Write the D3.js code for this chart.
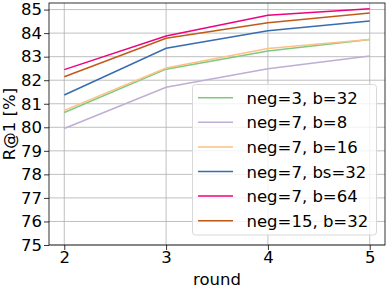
<!DOCTYPE html>
<html>
<head>
<meta charset="utf-8">
<script src="https://cdn.jsdelivr.net/npm/d3@7"></script>
<style>
body { margin: 0; background: #fff; }
text { font-family: "DejaVu Sans", sans-serif; }
</style>
</head>
<body>
<script>
var w = 387;
var h = 290;

var rounds = [2, 3, 4, 5];
var yTicks = [75, 76, 77, 78, 79, 80, 81, 82, 83, 84, 85];

var names = ["neg=3, b=32", "neg=7, b=8", "neg=7, b=16", "neg=7, bs=32", "neg=7, b=64", "neg=15, b=32"];
var colors = ["#7fc97f", "#beaed4", "#fdc086", "#386cb0", "#f0027f", "#bf5b17"];

var neg3b32 = [80.63, 82.47, 83.24, 83.73];
var neg7b8 = [79.95, 81.70, 82.49, 83.03];
var neg7b16 = [80.72, 82.52, 83.35, 83.73];
var neg7b32 = [81.37, 83.36, 84.10, 84.52];
var neg7b64 = [82.45, 83.88, 84.76, 85.04];
var neg15b32 = [82.15, 83.78, 84.44, 84.86];

var series = [neg3b32, neg7b8, neg7b16, neg7b32, neg7b64, neg15b32];

var mLeft = 49, mRight = 385, mTop = 3, mBottom = 245;
var fs = 16.5;

var xScale = d3.scaleLinear()
    .domain([1.85, 5.15])
    .range([mLeft, mRight]);

var yScale = d3.scaleLinear()
    .domain([75, 85.28])
    .range([mBottom, mTop]);

var svg = d3.select("body")
    .append("svg")
    .attr("width", w)
    .attr("height", h);

// grid
svg.append("g")
    .selectAll("line")
    .data(rounds)
    .enter()
    .append("line")
    .attr("x1", function(d) { return xScale(d); })
    .attr("x2", function(d) { return xScale(d); })
    .attr("y1", mTop)
    .attr("y2", mBottom)
    .attr("stroke", "#b0b0b0")
    .attr("stroke-width", 0.8);

svg.append("g")
    .selectAll("line")
    .data(yTicks)
    .enter()
    .append("line")
    .attr("x1", mLeft)
    .attr("x2", mRight)
    .attr("y1", function(d) { return yScale(d); })
    .attr("y2", function(d) { return yScale(d); })
    .attr("stroke", "#b0b0b0")
    .attr("stroke-width", 0.8);

// lines
var line = d3.line()
    .x(function(d, i) { return xScale(rounds[i]); })
    .y(function(d) { return yScale(d); });

svg.append("g")
    .selectAll("path")
    .data(series)
    .enter()
    .append("path")
    .attr("d", line)
    .attr("fill", "none")
    .attr("stroke", function(d, i) { return colors[i]; })
    .attr("stroke-width", 1.5);

// axes
var xAxis = d3.axisBottom(xScale)
    .tickValues(rounds)
    .tickFormat(d3.format("d"))
    .tickSize(5)
    .tickPadding(1);

var gx = svg.append("g")
    .attr("transform", "translate(0," + mBottom + ")")
    .call(xAxis);

var yAxis = d3.axisLeft(yScale)
    .tickValues(yTicks)
    .tickFormat(d3.format("d"))
    .tickSize(5)
    .tickPadding(2);

var gy = svg.append("g")
    .attr("transform", "translate(" + mLeft + ",0)")
    .call(yAxis);

[gx, gy].forEach(function(g) {
    g.select(".domain").remove();
    g.attr("font-family", "DejaVu Sans").attr("font-size", fs);
    g.selectAll("text").attr("fill", "#000");
    g.selectAll("line").attr("stroke", "#000").attr("stroke-width", 0.8);
});

svg.append("rect")
    .attr("x", mLeft)
    .attr("y", mTop)
    .attr("width", mRight - mLeft)
    .attr("height", mBottom - mTop)
    .attr("fill", "none")
    .attr("stroke", "#000")
    .attr("stroke-width", 0.8);

svg.append("text")
    .attr("text-anchor", "middle")
    .attr("x", (mLeft + mRight) / 2)
    .attr("y", 285)
    .attr("font-size", fs)
    .text("round");

svg.append("text")
    .attr("text-anchor", "middle")
    .attr("transform", "translate(15," + (mTop + mBottom) / 2 + ") rotate(-90)")
    .attr("font-size", fs)
    .text("R@1 [%]");

// legend
var legend = svg.append("g");

legend.append("rect")
    .attr("x", 192.5)
    .attr("y", 84.5)
    .attr("width", 184)
    .attr("height", 150.5)
    .attr("rx", 3)
    .attr("fill", "#fff")
    .attr("fill-opacity", 0.8)
    .attr("stroke", "#d8d8d8")
    .attr("stroke-width", 1);

var items = legend.selectAll(".item")
    .data(names)
    .enter()
    .append("g")
    .attr("transform", function(d, i) { return "translate(0," + (97.7 + i * 24.6) + ")"; });

items.append("line")
    .attr("x1", 198)
    .attr("x2", 233)
    .attr("y1", 0)
    .attr("y2", 0)
    .attr("stroke", function(d, i) { return colors[i]; })
    .attr("stroke-width", 1.5);

items.append("text")
    .attr("x", 246.5)
    .attr("y", 6)
    .attr("font-size", fs)
    .text(function(d) { return d; });
</script>
</body>
</html>
